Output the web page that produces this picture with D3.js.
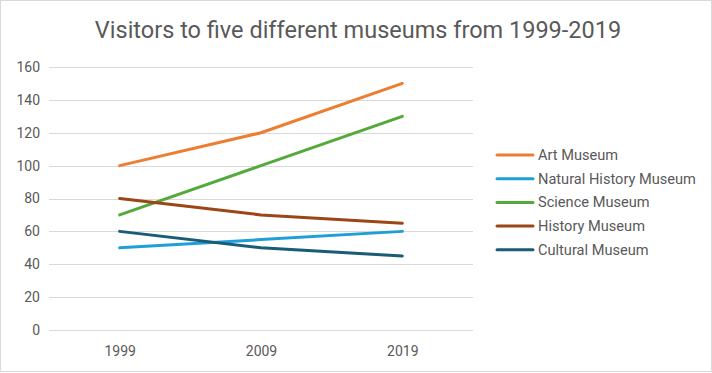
<!DOCTYPE html>
<html>
<head>
<meta charset="utf-8">
<script src="https://cdn.jsdelivr.net/npm/d3@7"></script>
<style>
  body { margin: 0; background: #fff; }
  text { font-family: "Roboto", sans-serif; }
</style>
</head>
<body>
<div id="chart"></div>
<script>
// chart data
const years = ['1999', '2009', '2019'];
const seriesNames = ['Art Museum', 'Natural History Museum', 'Science Museum', 'History Museum', 'Cultural Museum'];
const artMuseum = [100, 120, 150];
const naturalHistoryMuseum = [50, 55, 60];
const scienceMuseum = [70, 100, 130];
const historyMuseum = [80, 70, 65];
const culturalMuseum = [60, 50, 45];
const yTicks = [0, 20, 40, 60, 80, 100, 120, 140, 160];

const colors = ['#ED7D31', '#1E9FD8', '#53A93A', '#9B4614', '#1A5B78'];
const seriesValues = [artMuseum, naturalHistoryMuseum, scienceMuseum, historyMuseum, culturalMuseum];

const width = 712, height = 373;
const margin = { left: 49, right: 239, top: 67, bottom: 43 };

const svg = d3.select('#chart')
  .append('svg')
  .attr('width', width)
  .attr('height', height);

// outer border
svg.append('rect')
  .attr('x', 0.5).attr('y', 0.5)
  .attr('width', width - 1).attr('height', height - 2)
  .attr('fill', '#fff')
  .attr('stroke', '#d9d9d9');

const x = d3.scalePoint()
  .domain(years)
  .range([margin.left, width - margin.right])
  .padding(0.5);

const y = d3.scaleLinear()
  .domain([0, 160])
  .range([height - margin.bottom, margin.top]);

// title
svg.append('text')
  .attr('x', 358).attr('y', 38)
  .attr('text-anchor', 'middle')
  .attr('font-size', 23.5)
  .attr('fill', '#595959')
  .text('Visitors to five different museums from 1999-2019');

// gridlines
svg.append('g')
  .selectAll('line')
  .data(yTicks)
  .enter()
  .append('line')
  .attr('x1', margin.left)
  .attr('x2', width - margin.right)
  .attr('y1', d => Math.round(y(d)) + 0.5)
  .attr('y2', d => Math.round(y(d)) + 0.5)
  .attr('stroke', '#d9d9d9')
  .attr('stroke-width', 1);

// y axis labels
const yAxis = d3.axisLeft(y).tickValues(yTicks).tickSize(0).tickPadding(9);
svg.append('g')
  .attr('transform', `translate(${margin.left},0)`)
  .call(yAxis)
  .call(g => g.select('.domain').remove())
  .call(g => g.selectAll('text')
    .attr('font-size', 14)
    .attr('fill', '#595959')
    .style('font-family', '"Roboto", sans-serif'));

// x axis labels
const xAxis = d3.axisBottom(x).tickSize(0).tickPadding(16);
svg.append('g')
  .attr('transform', `translate(0,${height - margin.bottom})`)
  .call(xAxis)
  .call(g => g.select('.domain').remove())
  .call(g => g.selectAll('text')
    .attr('font-size', 14)
    .attr('fill', '#595959')
    .style('font-family', '"Roboto", sans-serif'));

// lines
const line = d3.line()
  .x((d, i) => x(years[i]))
  .y(d => y(d));

svg.append('g')
  .selectAll('path')
  .data(seriesValues)
  .enter()
  .append('path')
  .attr('d', line)
  .attr('fill', 'none')
  .attr('stroke', (d, i) => colors[i])
  .attr('stroke-width', 3)
  .attr('stroke-linecap', 'round');

// legend
const legend = svg.append('g')
  .selectAll('g')
  .data(seriesNames)
  .enter()
  .append('g')
  .attr('transform', (d, i) => `translate(497,${155 + i * 23.7})`);

legend.append('line')
  .attr('x1', 0).attr('x2', 36)
  .attr('stroke', (d, i) => colors[i])
  .attr('stroke-width', 3)
  .attr('stroke-linecap', 'round');

legend.append('text')
  .attr('x', 41)
  .attr('y', 5)
  .attr('font-size', 14.6)
  .attr('fill', '#595959')
  .text(d => d);
</script>
</body>
</html>
